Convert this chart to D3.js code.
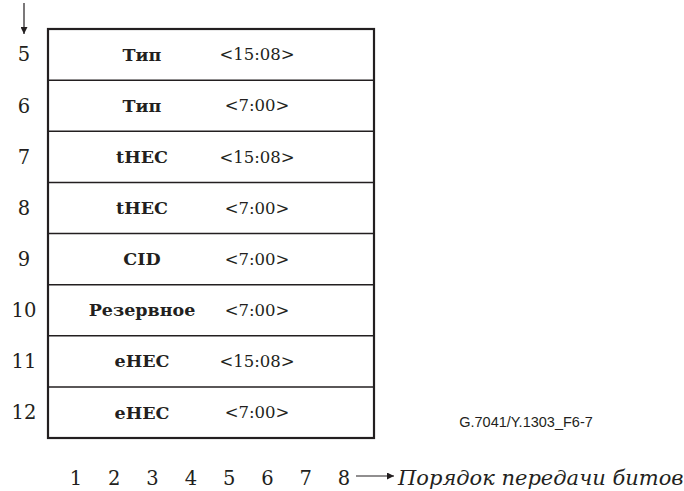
<!DOCTYPE html>
<html>
<head>
<meta charset="utf-8">
<script src="https://cdn.jsdelivr.net/npm/d3@7"></script>
<style>
    body { margin: 0; background: #fff; }
    .num { font-family: "DejaVu Serif", serif; font-size: 19.5px; fill: #231f20; }
    .field { font-family: "DejaVu Serif", serif; font-size: 17.5px; font-weight: bold; fill: #231f20; }
    .bits { font-family: "DejaVu Serif", serif; font-size: 16.5px; fill: #231f20; }
    .caption { font-family: "DejaVu Serif", serif; font-size: 21px; font-style: italic; fill: #231f20; }
    .figid { font-family: "Liberation Sans", Arial, sans-serif; font-size: 14.5px; fill: #231f20; }
</style>
</head>
<body>
<div id="chart"></div>
<script>
    const octets = [5, 6, 7, 8, 9, 10, 11, 12];
    const fields = ["Тип", "Тип", "tHEC", "tHEC", "CID", "Резервное", "eHEC", "eHEC"];
    const bitRanges = ["<15:08>", "<7:00>", "<15:08>", "<7:00>", "<7:00>", "<7:00>", "<15:08>", "<7:00>"];
    const bitOrder = [1, 2, 3, 4, 5, 6, 7, 8];

    let width = 684, height = 491;
    let box = {left: 48, right: 374, top: 29, bottom: 438};

    let svg = d3.select("#chart")
        .append("svg")
        .attr("width", width)
        .attr("height", height);

    let defs = svg.append("defs");
    defs.append("marker")
        .attr("id", "head")
        .attr("viewBox", "0 0 10 10")
        .attr("refX", 10)
        .attr("refY", 5)
        .attr("markerWidth", 9)
        .attr("markerHeight", 7)
        .attr("markerUnits", "userSpaceOnUse")
        .attr("orient", "auto")
        .append("path")
        .attr("d", "M0,0 L10,5 L0,10 Z")
        .attr("fill", "#231f20");

    let y = d3.scaleBand()
        .domain(octets)
        .range([box.top, box.bottom]);

    let x = d3.scalePoint()
        .domain(bitOrder)
        .range([76, 344]);

    // row dividers
    svg.selectAll(".divider")
        .data(octets.slice(1))
        .join("line")
        .attr("class", "divider")
        .attr("x1", box.left)
        .attr("x2", box.right)
        .attr("y1", d => y(d))
        .attr("y2", d => y(d))
        .attr("stroke", "#231f20")
        .attr("stroke-width", 1.5);

    // outer frame
    svg.append("rect")
        .attr("x", box.left)
        .attr("y", box.top)
        .attr("width", box.right - box.left)
        .attr("height", box.bottom - box.top)
        .attr("fill", "none")
        .attr("stroke", "#231f20")
        .attr("stroke-width", 2.2);

    // octet numbers
    svg.selectAll(".octet")
        .data(octets)
        .join("text")
        .attr("class", "num")
        .attr("x", 24)
        .attr("y", d => y(d) + y.bandwidth() / 2)
        .attr("dy", "0.35em")
        .attr("text-anchor", "middle")
        .text(d => d);

    svg.selectAll(".field")
        .data(octets)
        .join("text")
        .attr("class", "field")
        .attr("x", 142)
        .attr("y", d => y(d) + y.bandwidth() / 2)
        .attr("dy", "0.35em")
        .attr("text-anchor", "middle")
        .text((d, i) => fields[i]);

    svg.selectAll(".bits")
        .data(octets)
        .join("text")
        .attr("class", "bits")
        .attr("x", 257)
        .attr("y", d => y(d) + y.bandwidth() / 2)
        .attr("dy", "0.35em")
        .attr("text-anchor", "middle")
        .text((d, i) => bitRanges[i]);

    // transmission order arrow (top)
    svg.append("line")
        .attr("x1", 24).attr("x2", 24)
        .attr("y1", 3).attr("y2", 34)
        .attr("stroke", "#231f20")
        .attr("stroke-width", 1.2)
        .attr("marker-end", "url(#head)");

    // bit numbers
    svg.selectAll(".bit")
        .data(bitOrder)
        .join("text")
        .attr("class", "num")
        .attr("x", d => x(d))
        .attr("y", 478)
        .attr("dy", "0.35em")
        .attr("text-anchor", "middle")
        .text(d => d);

    svg.append("line")
        .attr("x1", 356).attr("x2", 394)
        .attr("y1", 476).attr("y2", 476)
        .attr("stroke", "#231f20")
        .attr("stroke-width", 1.2)
        .attr("marker-end", "url(#head)");

    svg.append("text")
        .attr("class", "caption")
        .attr("x", 398)
        .attr("y", 478)
        .attr("dy", "0.35em")
        .text("Порядок передачи битов");

    svg.append("text")
        .attr("class", "figid")
        .attr("x", 526)
        .attr("y", 422)
        .attr("dy", "0.35em")
        .attr("text-anchor", "middle")
        .text("G.7041/Y.1303_F6-7");
</script>
</body>
</html>
